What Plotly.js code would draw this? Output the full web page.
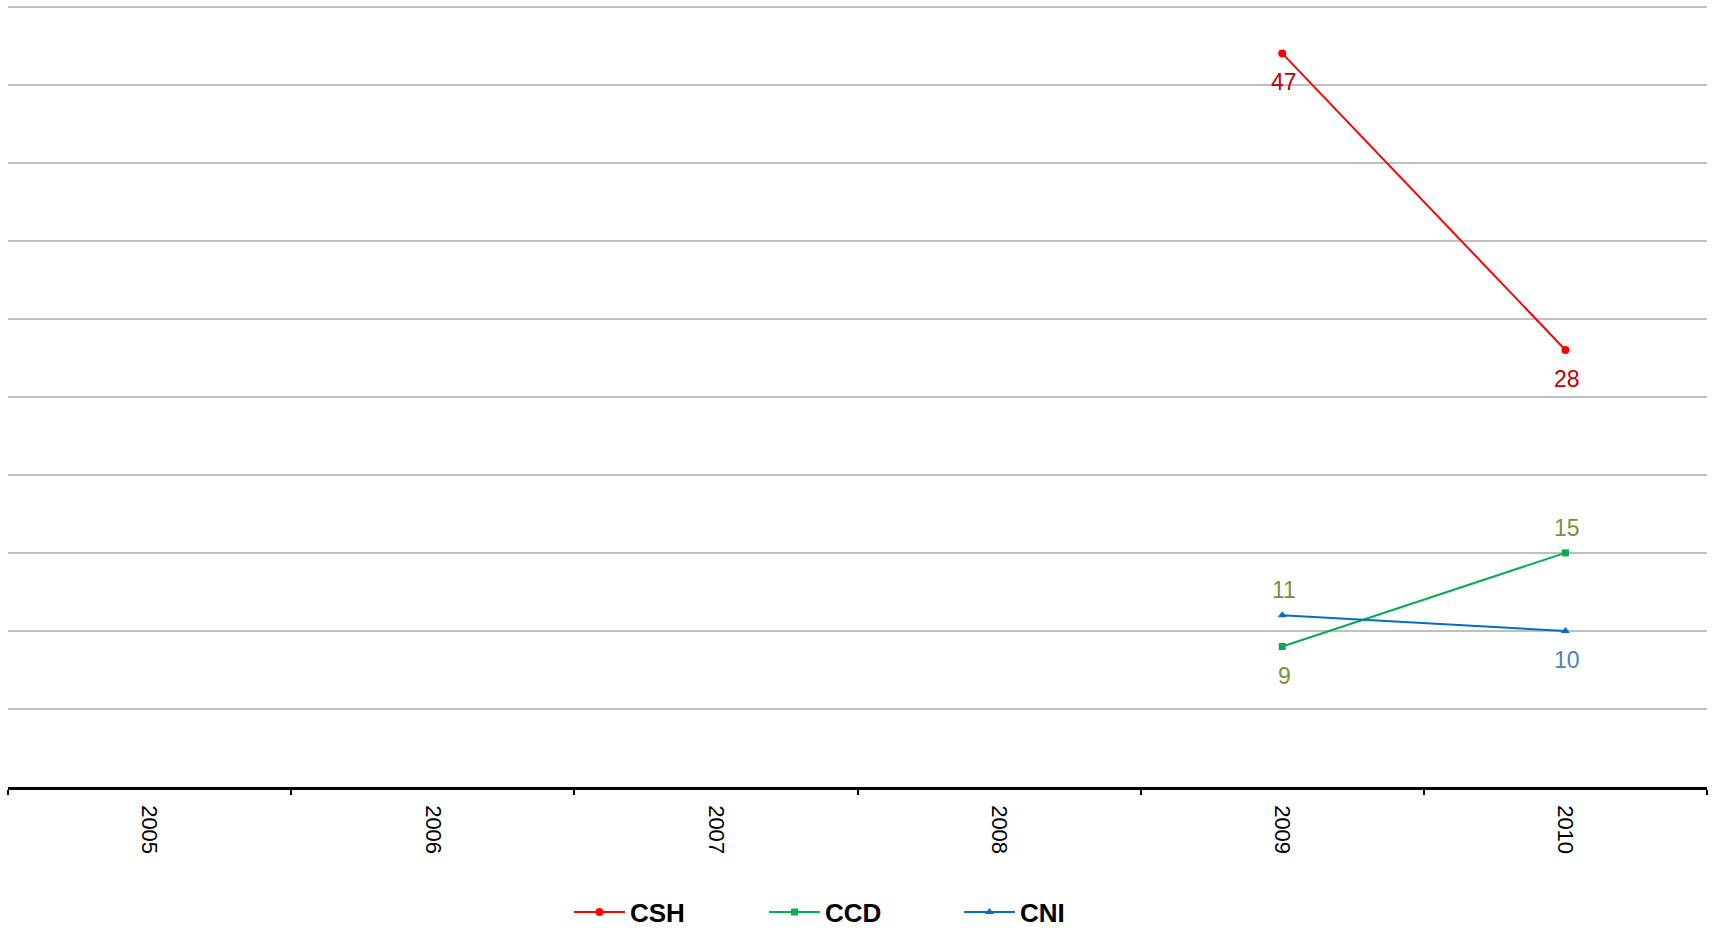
<!DOCTYPE html>
<html>
<head>
<meta charset="utf-8">
<script src="https://cdn.plot.ly/plotly-3.0.1.min.js"></script>
<style>
html,body{margin:0;padding:0;background:#fff;}
#chart{width:1713px;height:931px;}
</style>
</head>
<body>
<div id="chart"></div>
<script>
// ---- data ----
var years = ['2005', '2006', '2007', '2008', '2009', '2010'];
var seriesNames = ['CSH', 'CCD', 'CNI'];
var cshValues = [null, null, null, null, 47, 28];
var ccdValues = [null, null, null, null, 9, 15];
var cniValues = [null, null, null, null, 11, 10];

// ---- styles ----
var lineColors = ['#FF0000', '#00B050', '#0070C0'];
var symbols = ['circle', 'square', 'triangle-up'];
var markerSizes = [8, 7, 8];
var labelColors = [
  ['#C00000', '#C00000', '#C00000', '#C00000', '#C00000', '#C00000'],
  ['#77933C', '#77933C', '#77933C', '#77933C', '#77933C', '#77933C'],
  ['#4F81BD', '#4F81BD', '#4F81BD', '#4F81BD', '#77933C', '#4F81BD']
];
// label placement: -1 below the point, +1 above it
var labelSide = [
  [-1, -1, -1, -1, -1, -1],
  [-1, -1, -1, -1, -1, 1],
  [1, 1, 1, 1, 1, -1]
];

var allValues = [cshValues, ccdValues, cniValues];
var traces = [];
var annotations = [];
allValues.forEach(function (vals, s) {
  traces.push({
    type: 'scatter',
    mode: 'lines+markers',
    name: seriesNames[s],
    x: years,
    y: vals,
    connectgaps: false,
    line: {color: lineColors[s], width: 2},
    marker: {symbol: symbols[s], size: markerSizes[s], color: lineColors[s]},
    hoverinfo: 'x+y+name'
  });
  for (var i = 0; i < vals.length; i++) {
    var v = vals[i];
    if (v === null) continue;
    var side = labelSide[s][i];
    annotations.push({
      x: i, y: v, xref: 'x', yref: 'y',
      text: String(v), showarrow: false,
      xshift: 2,
      yshift: side > 0 ? 25 : -29,
      font: {family: 'Arial, "Liberation Sans", sans-serif', size: 23, color: labelColors[s][i]}
    });
  }
});

var layout = {
  width: 1713, height: 931,
  paper_bgcolor: '#ffffff', plot_bgcolor: '#ffffff',
  margin: {l: 8, r: 6, t: 5, b: 144, pad: 0},
  font: {family: 'Arial, "Liberation Sans", sans-serif', color: '#000'},
  showlegend: true,
  legend: {
    orientation: 'h',
    xref: 'container', yref: 'container',
    x: 569 / 1713, xanchor: 'left',
    y: 19 / 931, yanchor: 'middle',
    font: {size: 26, color: '#000', weight: 'bold'},
    itemwidth: 51,
    entrywidth: 129,
    bgcolor: 'rgba(0,0,0,0)'
  },
  xaxis: {
    type: 'category',
    range: [-0.5, 5.5],
    showgrid: false,
    zeroline: false,
    showline: true, linecolor: '#000', linewidth: 2.5,
    ticks: 'outside', tickson: 'boundaries', ticklen: 5, tickwidth: 2, tickcolor: '#000',
    tickangle: 90,
    ticklabelstandoff: 11,
    tickfont: {size: 22, color: '#000'},
    fixedrange: true
  },
  yaxis: {
    range: [0, 50.1],
    tick0: 0,
    dtick: 5,
    showgrid: true, gridcolor: '#C0C0C0', gridwidth: 1.5,
    zeroline: false,
    showline: false,
    showticklabels: false,
    ticks: '',
    fixedrange: true
  },
  annotations: annotations
};

Plotly.newPlot('chart', traces, layout, {displayModeBar: false, responsive: false});
</script>
</body>
</html>
